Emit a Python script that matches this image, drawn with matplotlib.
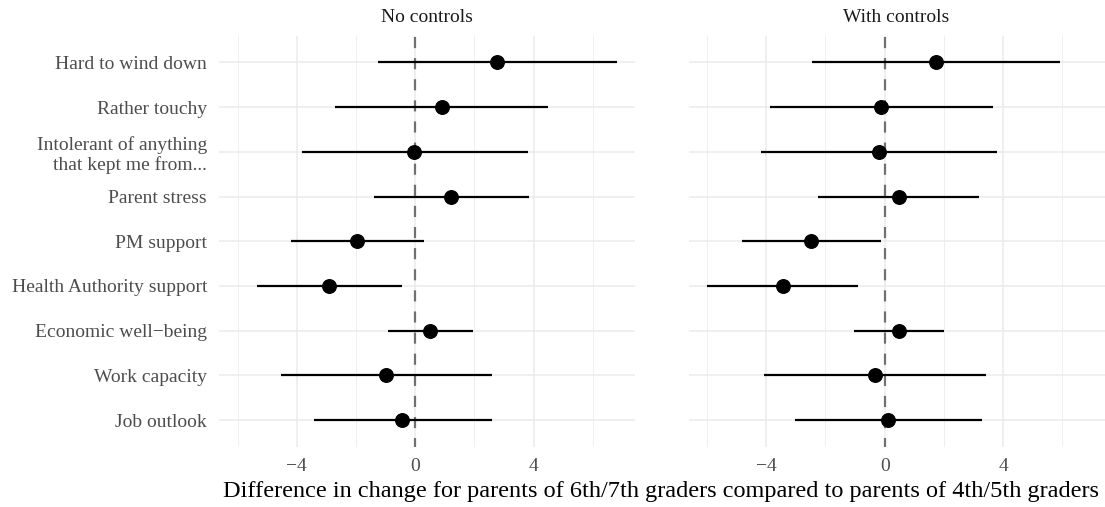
import matplotlib
matplotlib.use("Agg")
from matplotlib import pyplot as plt
from matplotlib.ticker import FixedLocator

plt.rcParams['font.family'] = ['Liberation Serif', 'DejaVu Serif']

# outcomes, top to bottom
outcomes = ['Hard to wind down', 'Rather touchy',
            'Intolerant of anything\nthat kept me from...', 'Parent stress',
            'PM support', 'Health Authority support',
            'Economic well\u2212being', 'Work capacity', 'Job outlook']

panels = ['No controls', 'With controls']

# estimates and 95% interval, no controls
no_est = [2.78, 0.90, -0.03, 1.22, -1.96, -2.91, 0.51, -0.97, -0.43]
no_lo = [-1.24, -2.70, -3.84, -1.40, -4.18, -5.33, -0.93, -4.52, -3.42]
no_hi = [6.81, 4.50, 3.81, 3.86, 0.29, -0.45, 1.97, 2.61, 2.60]

# estimates and 95% interval, with controls
ctl_est = [1.72, -0.14, -0.20, 0.47, -2.48, -3.45, 0.48, -0.34, 0.11]
ctl_lo = [-2.44, -3.89, -4.18, -2.25, -4.82, -6.01, -1.04, -4.08, -3.03]
ctl_hi = [5.94, 3.65, 3.81, 3.20, -0.14, -0.90, 2.02, 3.41, 3.28]

major_ticks = [-4, 0, 4]
minor_ticks = [-6, -2, 2, 6]

W, H = 1105, 507
fig = plt.figure(figsize=(W / 100, H / 100), dpi=100)

grid_col = '#EBEBEB'
ypos = list(range(len(outcomes), 0, -1))   # 9 .. 1

panel_left = [219, 688.5]
data = [(no_est, no_lo, no_hi), (ctl_est, ctl_lo, ctl_hi)]

for i, (est, lo, hi) in enumerate(data):
    ax = fig.add_axes([panel_left[i] / W, (H - 447) / H, 416 / W, 411.5 / H])
    ax.set_xlim(-6.63, 7.43)
    ax.set_ylim(0.4, len(outcomes) + 0.6)
    for s in ax.spines.values():
        s.set_visible(False)

    ax.xaxis.set_major_locator(FixedLocator(major_ticks))
    ax.xaxis.set_minor_locator(FixedLocator(minor_ticks))
    ax.set_yticks(ypos)
    ax.grid(True, which='major', axis='both', color=grid_col, lw=1.1)
    ax.grid(True, which='minor', axis='x', color=grid_col, lw=0.55)
    ax.set_axisbelow(True)
    ax.tick_params(which='both', length=0)
    ax.tick_params(axis='x', labelsize=14, labelcolor='#4D4D4D', pad=8)
    ax.tick_params(axis='y', labelsize=14, labelcolor='#4D4D4D', pad=8.6)
    if i == 0:
        ax.set_yticklabels(outcomes, linespacing=1.15)
    else:
        ax.set_yticklabels([])

    ax.axvline(0, color='#707070', lw=1.6, ls=(1, (5, 4.5)), zorder=1)
    ax.hlines(ypos, lo, hi, color='black', lw=1.6, zorder=2)
    ax.scatter(est, ypos, s=95, color='black', zorder=3)

    fig.text((panel_left[i] + 208) / W, 1 - 18 / H, panels[i],
             ha='center', va='center', fontsize=14, color='#1A1A1A')

fig.text(661 / W, 1 - 491 / H,
         'Difference in change for parents of 6th/7th graders compared to parents of 4th/5th graders',
         ha='center', va='center', fontsize=17.5, color='black')

fig.savefig('out.png', dpi=100)
